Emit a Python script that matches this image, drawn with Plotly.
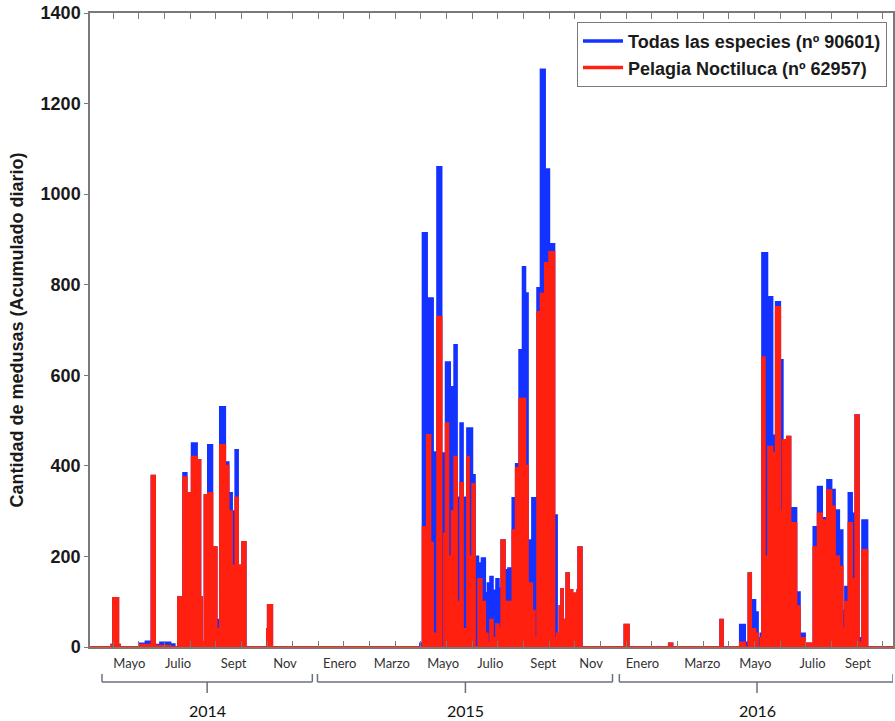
import pandas as pd
import plotly.graph_objects as go

# ---------------- data (days since 2014-04-01, daily totals) ----------------
inicio = "2014-04-01"
fin = "2016-10-26"
dias = [0, 25, 27, 33, 35, 58, 65, 70, 72, 76, 82, 94, 99,
        103, 109, 113, 117, 119, 125, 129, 131, 134, 138, 143, 148, 152, 158,
        162, 164, 166, 170, 173, 176, 178, 182, 207, 208, 213,
        380, 386, 389, 392, 394, 398, 401, 406, 411, 414, 416, 419, 421, 423,
        426, 429, 433, 436, 441, 443, 447, 450, 454, 458, 462, 465, 468, 471,
        475, 478, 481, 485, 489, 494, 498, 502, 506, 509, 512, 517, 520, 523,
        527, 532, 537, 543, 546, 549, 551, 553, 557, 560, 564, 566, 570, 571, 575,
        625, 630, 677, 681, 737, 740, 760, 766, 770, 773, 778, 781, 784, 786,
        789, 792, 793, 798, 802, 807, 810, 815, 819, 821, 826, 830, 836, 844,
        846, 851, 856, 862, 867, 871, 876, 880, 883, 887, 891, 895, 899, 903,
        909, 939]
todas = [0, 5, 108, 5, 0, 8, 12, 5, 378, 5, 10, 6, 0,
         110, 384, 340, 20, 450, 413, 110, 10, 335, 446, 220, 60, 530, 408,
         340, 340, 300, 435, 180, 20, 232, 0, 40, 93, 0,
         0, 8, 914, 914, 770, 770, 430, 1060, 428, 428, 629, 629, 574, 574,
         667, 330, 494, 330, 483, 483, 380, 200, 185, 196, 119, 141, 155, 125,
         150, 130, 236, 170, 174, 329, 404, 656, 839, 781, 236, 329, 329, 793,
         1275, 1055, 890, 291, 30, 90, 128, 60, 163, 126, 20, 118, 126, 220, 0,
         49, 0, 8, 0, 60, 0, 49, 10, 163, 104, 77, 20, 30, 870,
         870, 400, 773, 467, 762, 634, 457, 464, 177, 307, 121, 30, 8, 0,
         265, 354, 285, 369, 347, 302, 258, 80, 133, 340, 295, 512, 20, 280,
         0, 0]
pelagia = [0, 5, 108, 5, 0, 5, 5, 3, 378, 3, 3, 0, 0,
           110, 375, 340, 20, 420, 413, 110, 10, 335, 340, 220, 40, 446, 400,
           50, 300, 180, 330, 180, 20, 232, 0, 40, 93, 0,
           0, 0, 265, 150, 468, 230, 30, 729, 0, 250, 494, 200, 20, 300,
           420, 100, 362, 40, 420, 200, 360, 0, 150, 100, 30, 10, 60, 20,
           50, 40, 236, 100, 100, 258, 395, 548, 548, 400, 141, 80, 20, 740,
           780, 848, 872, 20, 30, 90, 128, 60, 163, 126, 20, 118, 126, 220, 0,
           49, 0, 8, 0, 60, 0, 10, 0, 163, 40, 30, 0, 20, 640,
           200, 100, 442, 428, 751, 300, 457, 464, 100, 274, 90, 20, 8, 0,
           221, 295, 280, 346, 310, 200, 177, 40, 100, 274, 150, 512, 10, 214,
           0, 0]

nombres = ["Todas las especies (nº 90601)", "Pelagia Noctiluca (nº 62957)"]

# month labels (tick labels) and their dates
meses = ["Mayo", "Julio", "Sept", "Nov", "Enero", "Marzo", "Mayo", "Julio",
         "Sept", "Nov", "Enero", "Marzo", "Mayo", "Julio", "Sept"]
fechas_meses = ["2014-05-17", "2014-07-13", "2014-09-16", "2014-11-15",
                "2015-01-18", "2015-03-20", "2015-05-19", "2015-07-13",
                "2015-09-13", "2015-11-08", "2016-01-07", "2016-03-17",
                "2016-05-18", "2016-07-24", "2016-09-15"]

# year brackets: label, start, middle, end
anios = ["2014", "2015", "2016"]
anio_ini = ["2014-04-15", "2014-12-23", "2015-12-11"]
anio_mid = ["2014-08-16", "2015-06-14", "2016-05-20"]
anio_fin = ["2014-12-17", "2015-12-03", "2016-10-26"]

fechas = pd.Timestamp(inicio) + pd.to_timedelta(dias, unit="D")

AZUL = "#1432ff"
ROJO = "#ff2010"
GRIS = "#7a7a7a"

fig = go.Figure()
fig.add_trace(go.Scatter(x=fechas, y=todas, mode="lines", name=nombres[0],
                         line=dict(color=AZUL, width=2, shape="hv"),
                         fill="tozeroy", fillcolor=AZUL, showlegend=False))
fig.add_trace(go.Scatter(x=fechas, y=pelagia, mode="lines", name=nombres[1],
                         line=dict(color=ROJO, width=2, shape="hv"),
                         fill="tozeroy", fillcolor=ROJO, showlegend=False))
# legend entries drawn as plain lines, as in the original (placed on the top axis
# so that its ticks get drawn)
for nom, col in zip(nombres, [AZUL, ROJO]):
    fig.add_trace(go.Scatter(x=[None], y=[None], mode="lines", name=nom,
                             line=dict(color=col, width=3.5), xaxis="x2"))

bold = dict(family="Liberation Sans, Arial, sans-serif", size=18, color="#1a1a1a", weight="bold")
TICK30 = 30 * 86400000

fig.update_layout(
    template="none",
    width=895, height=721,
    margin=dict(l=90, r=2, t=13, b=74, autoexpand=False),
    paper_bgcolor="white", plot_bgcolor="white",
    showlegend=True,
    legend=dict(x=0.9925, y=0.986, xanchor="right", yanchor="top",
                bgcolor="white", bordercolor=GRIS, borderwidth=1,
                font=bold, tracegroupgap=0, itemwidth=40),
    xaxis=dict(
        type="date", automargin=False,
        range=[inicio, fin],
        tickvals=fechas_meses, ticktext=meses,
        ticks="", showgrid=False, zeroline=False,
        tickfont=dict(family="Lato, Open Sans, sans-serif", size=13, color="#333"),
        showline=True, linecolor=GRIS, linewidth=1.5, mirror=True,
        minor=dict(ticks="inside", ticklen=6, tickcolor=GRIS, tickwidth=1.2,
                   tick0="2014-04-28", dtick=TICK30, showgrid=False),
        ticklabelstandoff=4,
    ),
    xaxis2=dict(
        type="date", automargin=False, overlaying="x", side="top",
        range=[inicio, fin], tickmode="linear", tick0="2014-04-28", dtick=TICK30,
        ticks="inside", ticklen=6, tickwidth=1.2, tickcolor=GRIS, showticklabels=False,
        showgrid=False, zeroline=False, showline=False,
    ),
    yaxis=dict(
        automargin=False,
        range=[0, 1400], dtick=200, ticks="outside", ticklen=4,
        tickcolor=GRIS, showgrid=False, zeroline=False,
        showline=True, linecolor=GRIS, linewidth=1.5, mirror="ticks",
        tickfont=bold,
        title=dict(text="Cantidad de medusas (Acumulado diario)", font=bold, standoff=12),
    ),
)

col_llave = "#6b7080"
for lab, a, m, b in zip(anios, anio_ini, anio_mid, anio_fin):
    common = dict(xref="x", yref="paper", ysizemode="pixel", yanchor=0,
                  line=dict(color=col_llave, width=1.5))
    fig.add_shape(type="line", x0=a, x1=b, y0=-35, y1=-35, **common)
    fig.add_shape(type="line", x0=a, x1=a, y0=-35, y1=-27, **common)
    fig.add_shape(type="line", x0=b, x1=b, y0=-35, y1=-27, **common)
    fig.add_shape(type="line", x0=m, x1=m, y0=-35, y1=-46, **common)
    fig.add_annotation(x=m, y=0, xref="x", yref="paper", text=lab,
                       showarrow=False, yanchor="middle", yshift=-63,
                       font=dict(family="Lato, Open Sans, sans-serif", size=16, color="#111"))

fig.write_html("out.html", config={"displayModeBar": False},
               post_script="document.body.style.margin='0';")
